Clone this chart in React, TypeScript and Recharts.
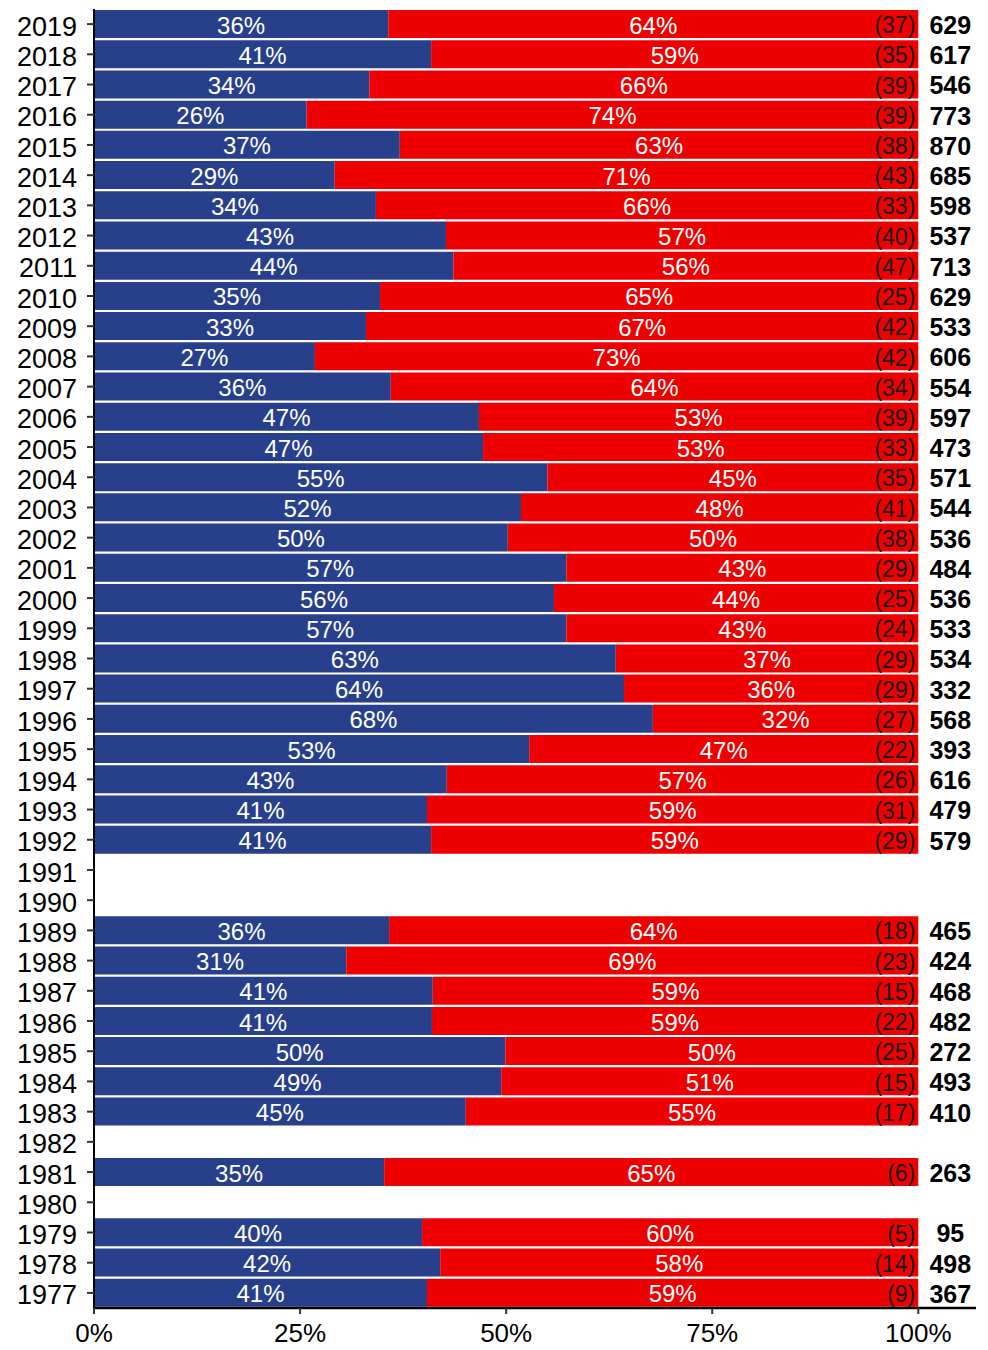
import React from 'react'
import { BarChart, Bar, XAxis, YAxis, LabelList } from 'recharts'

const years = [
  '2019', '2018', '2017', '2016', '2015', '2014', '2013', '2012', '2011', '2010',
  '2009', '2008', '2007', '2006', '2005', '2004', '2003', '2002', '2001', '2000',
  '1999', '1998', '1997', '1996', '1995', '1994', '1993', '1992', '1991', '1990',
  '1989', '1988', '1987', '1986', '1985', '1984', '1983', '1982', '1981', '1980',
  '1979', '1978', '1977'
]

// blue share as drawn (bar length), null = no data that year
const blueShare: (number | null)[] = [
  35.7, 40.9, 33.4, 25.8, 37.1, 29.2, 34.2, 42.7, 43.6, 34.7,
  33.0, 26.8, 36.0, 46.7, 47.2, 55.0, 51.8, 50.2, 57.3, 55.8,
  57.3, 63.3, 64.3, 67.8, 52.8, 42.8, 40.4, 40.9, null, null,
  35.8, 30.6, 41.1, 41.0, 49.9, 49.4, 45.1, null, 35.2, null,
  39.8, 42.0, 40.4
]

const blueLabels: (number | null)[] = [
  36, 41, 34, 26, 37, 29, 34, 43, 44, 35,
  33, 27, 36, 47, 47, 55, 52, 50, 57, 56,
  57, 63, 64, 68, 53, 43, 41, 41, null, null,
  36, 31, 41, 41, 50, 49, 45, null, 35, null,
  40, 42, 41
]

const redLabels: (number | null)[] = [
  64, 59, 66, 74, 63, 71, 66, 57, 56, 65,
  67, 73, 64, 53, 53, 45, 48, 50, 43, 44,
  43, 37, 36, 32, 47, 57, 59, 59, null, null,
  64, 69, 59, 59, 50, 51, 55, null, 65, null,
  60, 58, 59
]

const counts: (number | null)[] = [
  37, 35, 39, 39, 38, 43, 33, 40, 47, 25,
  42, 42, 34, 39, 33, 35, 41, 38, 29, 25,
  24, 29, 29, 27, 22, 26, 31, 29, null, null,
  18, 23, 15, 22, 25, 15, 17, null, 6, null,
  5, 14, 9
]

const totals: (number | null)[] = [
  629, 617, 546, 773, 870, 685, 598, 537, 713, 629,
  533, 606, 554, 597, 473, 571, 544, 536, 484, 536,
  533, 534, 332, 568, 393, 616, 479, 579, null, null,
  465, 424, 468, 482, 272, 493, 410, null, 263, null,
  95, 498, 367
]

const xTicks = [0, 25, 50, 75, 100]

const data = years.map((year, i) => ({
  year,
  blue: blueShare[i],
  red: blueShare[i] == null ? null : 100 - (blueShare[i] as number),
  blueLabel: blueLabels[i],
  redLabel: redLabels[i],
  count: counts[i],
  total: totals[i]
}))

const FONT = '"Liberation Sans", Arial, sans-serif'
const BLUE = '#283F8B'
const RED = '#EE0000'

const box = (p: any) => {
  const src = p.x != null ? p : p.viewBox || {}
  return { x: Number(src.x), y: Number(src.y), w: Number(src.width), h: Number(src.height) }
}

const PctLabel = (p: any) => {
  if (p.value == null) return null
  const { x, y, w, h } = box(p)
  return (
    <text x={x + w / 2} y={y + h / 2} dy="0.4em" textAnchor="middle" fill="#fff" fontSize={24} fontFamily={FONT}>
      {`${p.value}%`}
    </text>
  )
}

const CountLabel = (p: any) => {
  if (p.value == null) return null
  const { x, y, w, h } = box(p)
  return (
    <text x={x + w - 3} y={y + h / 2} dy="0.4em" textAnchor="end" fill="#1a1a1a" fontSize={23} fontFamily={FONT}>
      {`(${p.value})`}
    </text>
  )
}

const TotalLabel = (p: any) => {
  if (p.value == null) return null
  const { x, y, w, h } = box(p)
  return (
    <text x={x + w + 32} y={y + h / 2} dy="0.4em" textAnchor="middle" fill="#000" fontSize={25} fontWeight="bold" fontFamily={FONT}>
      {p.value}
    </text>
  )
}

export default function App() {
  return (
    <div style={{ width: 980, height: 1342, fontFamily: FONT }}>
      <BarChart
        width={980}
        height={1342}
        data={data}
        layout="vertical"
        margin={{ top: 1, right: 12, left: 0, bottom: 0 }}
        barSize={28}
        style={{ fontFamily: FONT }}
      >
        <XAxis
          type="number"
          domain={[0, 107]}
          ticks={xTicks}
          tickFormatter={(v: number) => `${v}%`}
          allowDataOverflow
          height={42}
          tickSize={6}
          tickMargin={10}
          axisLine={{ stroke: '#000', strokeWidth: 2.5 }}
          tickLine={{ stroke: '#333', strokeWidth: 2 }}
          tick={{ fill: '#000', fontSize: 26 }}
        />
        <YAxis
          type="category"
          dataKey="year"
          width={86}
          interval={0}
          tickSize={7}
          tickMargin={10}
          axisLine={{ stroke: '#000', strokeWidth: 2 }}
          tickLine={{ stroke: '#333', strokeWidth: 2 }}
          tick={{ fill: '#000', fontSize: 27, dy: 2 }}
        />
        <Bar dataKey="blue" stackId="a" fill={BLUE} isAnimationActive={false}>
          <LabelList dataKey="blueLabel" content={PctLabel} />
        </Bar>
        <Bar dataKey="red" stackId="a" fill={RED} isAnimationActive={false}>
          <LabelList dataKey="redLabel" content={PctLabel} />
          <LabelList dataKey="count" content={CountLabel} />
          <LabelList dataKey="total" content={TotalLabel} />
        </Bar>
      </BarChart>
    </div>
  )
}
